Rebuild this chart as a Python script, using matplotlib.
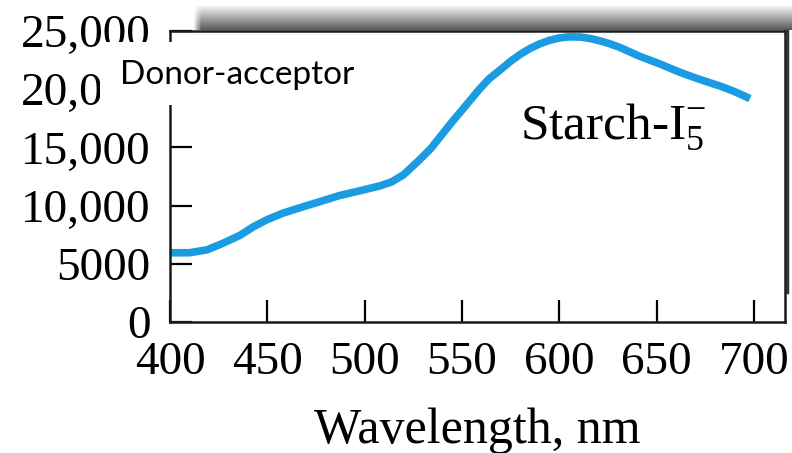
import numpy as np
import matplotlib
matplotlib.use('Agg')
import matplotlib.pyplot as plt
from matplotlib.patches import Rectangle
from matplotlib.lines import Line2D
from matplotlib.ticker import FuncFormatter

wavelength = [400, 410, 419, 427, 436, 443, 450, 458, 467, 477, 487, 498, 508,
              514, 520, 528, 534, 539, 544, 549, 554, 559, 564, 570, 575, 580,
              585, 590, 595, 600, 605, 611, 616, 621, 626, 631, 641, 652, 662,
              672, 683, 690, 698]
absorbance = [5950, 5950, 6200, 6750, 7450, 8200, 8800, 9350, 9830, 10340,
              10860, 11290, 11700, 12050, 12650, 13900, 14900, 15950, 17000,
              18000, 19000, 20000, 20900, 21700, 22400, 23000, 23500, 23900,
              24200, 24400, 24500, 24480, 24350, 24150, 23900, 23600, 22850,
              22150, 21450, 20850, 20250, 19800, 19200]
x_ticks = [400, 450, 500, 550, 600, 650, 700]
y_ticks = [0, 5000, 10000, 15000, 20000, 25000]
y_labels = ['0', '5000', '10,000', '15,000', '20,000', '25,000']

plt.rcParams['font.family'] = 'Liberation Serif'
plt.rcParams['mathtext.fontset'] = 'custom'
plt.rcParams['mathtext.rm'] = 'Liberation Serif'
plt.rcParams['mathtext.it'] = 'Liberation Serif:italic'

W, H = 792, 453
fig = plt.figure(figsize=(W / 100, H / 100), dpi=100)
ax = fig.add_axes([170 / W, 1 - 322 / H, 615 / W, 291 / H])

ax.plot(wavelength, absorbance, color='#1b9ce2', lw=5.5, solid_capstyle='butt',
        solid_joinstyle='round')
ax.set_xlim(400, 716)
ax.set_ylim(0, 25000)
ax.set_xticks(x_ticks)
ax.set_yticks(y_ticks)
ax.yaxis.set_major_formatter(FuncFormatter(lambda v, p: y_labels[y_ticks.index(int(round(v)))]))
ax.tick_params(direction='in', length=16, width=1.6, labelsize=34)
ax.tick_params(axis='x', pad=14)
ax.tick_params(axis='y', pad=14)
for s in ax.spines.values():
    s.set_linewidth(1.8)
    s.set_color('#1a1a1a')

ax.set_xlabel('Wavelength, nm', fontsize=36, labelpad=17)
ax.text(580, 15770, 'Starch-I$_5^{-}$', fontsize=37, ha='left', va='baseline')

# gray shaded strip on top
gax = fig.add_axes([193 / W, 1 - 30 / H, (W - 193) / W, 25 / H])
vert = np.linspace(0.97, 0.35, 25)[:, None]
horiz = np.clip(np.arange(W - 193) / 8.0, 0, 1)[None, :]
grad = 1 - (1 - vert) * horiz
gax.imshow(grad, cmap='gray', vmin=0, vmax=1, aspect='auto', interpolation='bilinear')
gax.axis('off')

# shadow on right edge
fig.add_artist(Line2D([787 / W, 787 / W], [1 - 31 / H, 1 - 292 / H],
                      transform=fig.transFigure, color='#333333', lw=2.5))

# white box with label
fig.add_artist(Rectangle((100 / W, 1 - 105 / H), 270 / W, 63 / H,
                         transform=fig.transFigure, facecolor='white',
                         edgecolor='none', zorder=10))
fig.text(120 / W, 1 - 75 / H, 'Donor-acceptor', fontsize=24, family='Lato',
         ha='left', va='center', zorder=11)

fig.savefig('out.png', dpi=100)
